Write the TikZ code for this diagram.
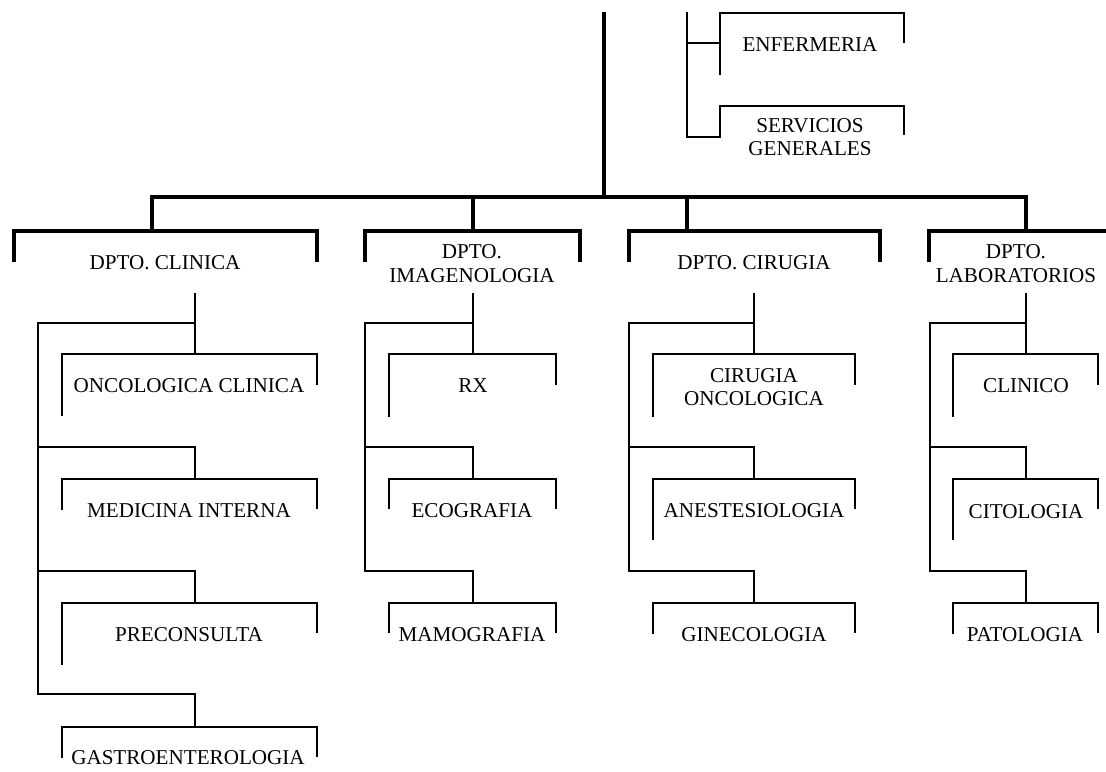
\documentclass[tikz,border=0pt]{standalone}
\usepackage{fontspec}
\setmainfont{Liberation Serif}
\newcommand\brbox[8][boxline]{%
  \coordinate (#2-tl) at (#3,#5);
  \coordinate (#2-tr) at (#4,#5);
  \coordinate (#2-t) at (#8,#5);
  \draw[#1] (#3,#6) -- (#2-tl) -- (#2-tr) -- (#4,#7);}
\begin{document}
\begin{tikzpicture}[x=1bp,y=-1bp,
  bus/.style={line width=3.4bp},
  deptline/.style={line width=3.1bp},
  boxline/.style={line width=2.7bp},
  conn/.style={line width=2.6bp},
  lbl/.style={font=\fontsize{21.2}{23.5}\selectfont, inner sep=0pt, align=center, anchor=center}]
\useasboundingbox (0,0) rectangle (1106,772);

% ---------- top staff ----------
\brbox{enf}{720}{904}{13}{75}{43}{720}
\node[lbl] (enfN) at (810,45) {ENFERMERIA};
\brbox{serv}{720}{904}{106}{137}{135}{720}
\node[lbl] (servN) at (810,137) {SERVICIOS\\GENERALES};
\coordinate (sttop) at (687,12);
\coordinate (stk1) at (687,43);
\coordinate (stbot) at (687,137);
\draw[conn] (sttop) -- (stbot) -| (serv-tl);
\draw[conn] (stk1) -- (enf-tl |- stk1);

% ---------- departments ----------
\brbox[deptline]{clin}{14}{317}{231}{262}{262}{152}
\node[lbl] (clinN) at (165,263) {DPTO. CLINICA};
\brbox[deptline]{img}{365}{580}{231}{262}{262}{473}
\node[lbl] (imgN) at (472,263.5) {DPTO.\\IMAGENOLOGIA};
\brbox[deptline]{cir}{629}{880}{231}{262}{262}{687}
\node[lbl] (cirN) at (754,263) {DPTO. CIRUGIA};
\coordinate (lab-tl) at (929,231);
\coordinate (lab-t) at (1026,231);
\coordinate (lab-edge) at (1106,231);
\draw[deptline] (929,262) -- (lab-tl) -- (lab-edge);
\node[lbl] (labN) at (1016,263.5) {DPTO.\\LABORATORIOS};

% ---------- main bus ----------
\coordinate (top) at (604,12);
\coordinate (hub) at (604,197);
\coordinate (busL) at (152,197);
\coordinate (busR) at (1026,197);
\draw[bus] (top) -- (hub);
\draw[bus] (clin-t) -- (busL) -- (busR) -- (lab-t);
\draw[bus] (busL -| img-t) -- (img-t);
\draw[bus] (busL -| cir-t) -- (cir-t);

% ---------- column 1: clinica ----------
\brbox{onc}{62}{317}{354}{416}{385}{195}
\node[lbl] (oncN) at (189,386) {ONCOLOGICA CLINICA};
\brbox{med}{62}{317}{479}{510}{509}{195}
\node[lbl] (medN) at (189,511) {MEDICINA INTERNA};
\brbox{pre}{62}{317}{603}{665}{633}{195}
\node[lbl] (preN) at (189,635) {PRECONSULTA};
\brbox{gas}{62}{317}{727}{758}{757}{195}
\node[lbl] (gasN) at (188,758) {GASTROENTEROLOGIA};
\coordinate (c1s) at (195,293);
\coordinate (c1j) at (195,323);
\coordinate (c1k2) at (38,447);
\coordinate (c1k3) at (38,571);
\coordinate (c1e) at (38,694);
\draw[conn] (c1s) -- (onc-t);
\draw[conn] (c1j) -| (c1e) -| (gas-t);
\draw[conn] (c1k2) -| (med-t);
\draw[conn] (c1k3) -| (pre-t);

% ---------- column 2: imagenologia ----------
\brbox{rx}{389}{556}{354}{417}{385}{473}
\node[lbl] (rxN) at (473,386) {RX};
\brbox{eco}{389}{556}{479}{509}{509}{473}
\node[lbl] (ecoN) at (472,511) {ECOGRAFIA};
\brbox{mam}{389}{556}{603}{633}{633}{473}
\node[lbl] (mamN) at (472,635) {MAMOGRAFIA};
\coordinate (c2s) at (473,293);
\coordinate (c2j) at (473,323);
\coordinate (c2k2) at (365,447);
\coordinate (c2e) at (365,571);
\draw[conn] (c2s) -- (rx-t);
\draw[conn] (c2j) -| (c2e) -| (mam-t);
\draw[conn] (c2k2) -| (eco-t);

% ---------- column 3: cirugia ----------
\brbox{cor}{653}{855}{354}{417}{385}{754}
\node[lbl] (corN) at (754,387) {CIRUGIA\\ONCOLOGICA};
\brbox{ane}{653}{855}{479}{540}{509}{754}
\node[lbl] (aneN) at (754,511) {ANESTESIOLOGIA};
\brbox{gin}{653}{855}{603}{634}{633}{754}
\node[lbl] (ginN) at (754,635) {GINECOLOGIA};
\coordinate (c3s) at (754,293);
\coordinate (c3j) at (754,323);
\coordinate (c3k2) at (629,447);
\coordinate (c3e) at (629,571);
\draw[conn] (c3s) -- (cor-t);
\draw[conn] (c3j) -| (c3e) -| (gin-t);
\draw[conn] (c3k2) -| (ane-t);

% ---------- column 4: laboratorios ----------
\brbox{cli}{953}{1098}{354}{417}{385}{1026}
\node[lbl] (cliN) at (1026,386) {CLINICO};
\brbox{cit}{953}{1098}{479}{540}{509}{1026}
\node[lbl] (citN) at (1026,512) {CITOLOGIA};
\brbox{pat}{953}{1098}{603}{634}{633}{1026}
\node[lbl] (patN) at (1025,635) {PATOLOGIA};
\coordinate (c4s) at (1026,293);
\coordinate (c4j) at (1026,323);
\coordinate (c4k2) at (930,447);
\coordinate (c4e) at (930,571);
\draw[conn] (c4s) -- (cli-t);
\draw[conn] (c4j) -| (c4e) -| (pat-t);
\draw[conn] (c4k2) -| (cit-t);
\end{tikzpicture}
\end{document}
